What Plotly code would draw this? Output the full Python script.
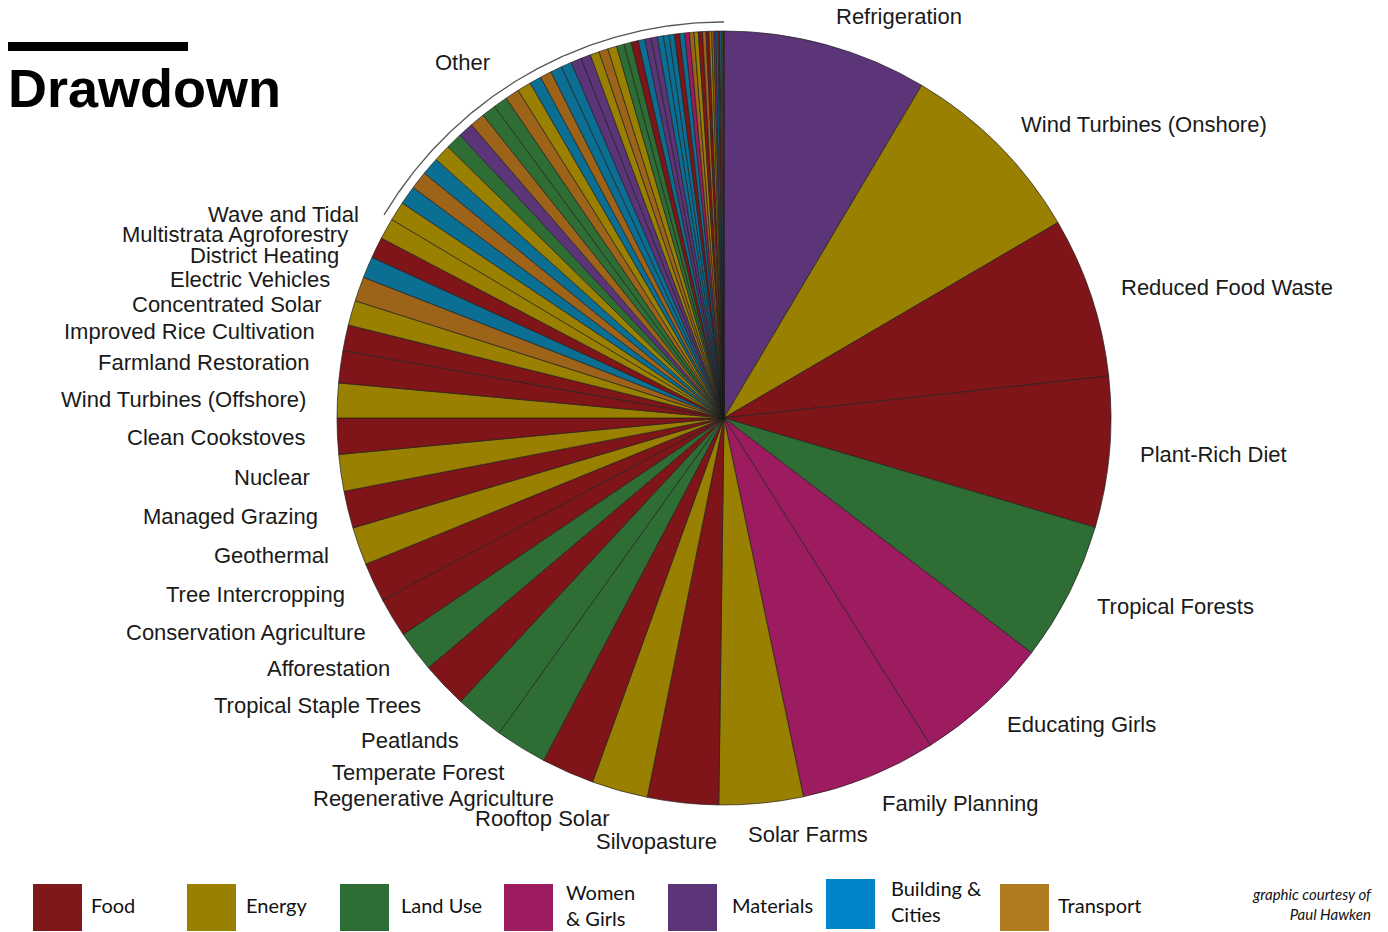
import math
import plotly.graph_objects as go

# ---------------- data ----------------
solutions = [
    "Refrigeration", "Wind Turbines (Onshore)", "Reduced Food Waste", "Plant-Rich Diet",
    "Tropical Forests", "Educating Girls", "Family Planning", "Solar Farms", "Silvopasture",
    "Rooftop Solar", "Regenerative Agriculture", "Temperate Forest", "Peatlands",
    "Tropical Staple Trees", "Afforestation", "Conservation Agriculture", "Tree Intercropping",
    "Geothermal", "Managed Grazing", "Nuclear", "Clean Cookstoves", "Wind Turbines (Offshore)",
    "Farmland Restoration", "Improved Rice Cultivation", "Concentrated Solar", "Electric Vehicles",
    "District Heating", "Multistrata Agroforestry", "Wave and Tidal",
    "Methane Digesters (Large)", "Insulation", "Ships", "LED Lighting (Household)", "Biomass",
    "Bamboo", "Alternative Cement", "Mass Transit", "Forest Protection",
    "Indigenous Peoples' Land Management", "Trucks", "Solar Water", "Heat Pumps", "Airplanes",
    "LED Lighting (Commercial)", "Building Automation", "Water Saving - Home", "Bioplastic",
    "In-Stream Hydro", "Cars", "Cogeneration", "Perennial Biomass", "Coastal Wetlands",
    "System of Rice Intensification", "Walkable Cities", "Household Recycling",
    "Industrial Recycling", "Smart Thermostats", "Landfill Methane", "Bike Infrastructure",
    "Composting", "Smart Glass", "Women Smallholders", "Telepresence",
    "Methane Digesters (Small)", "Nutrient Management", "High-speed Rail", "Farmland Irrigation",
    "Waste-to-Energy", "Electric Bikes", "Recycled Paper", "Water Distribution", "Biochar",
    "Green Roofs", "Trains", "Ridesharing", "Micro Wind",
]
values = [
    89.74, 84.60, 70.53, 66.11, 61.23, 59.60, 59.60, 36.90, 31.19, 24.60, 23.15, 22.61, 21.57,
    20.19, 18.06, 17.35, 17.20, 16.60, 16.34, 16.09, 15.81, 15.20, 14.08, 11.34, 10.90, 10.80,
    9.38, 9.28, 9.20,
    8.40, 8.27, 7.87, 7.81, 7.50, 7.22, 6.69, 6.57, 6.20, 6.19, 6.18, 6.08, 5.20, 5.05, 5.04,
    4.62, 4.61, 4.30, 4.00, 4.00, 3.97, 3.33, 3.19, 3.13, 2.92, 2.77, 2.77, 2.62, 2.50, 2.31,
    2.28, 2.19, 2.06, 1.99, 1.90, 1.81, 1.52, 1.33, 1.10, 0.96, 0.90, 0.87, 0.81, 0.77, 0.52,
    0.32, 0.20,
]
sectors = [
    "Materials", "Energy", "Food", "Food", "Land Use", "Women & Girls", "Women & Girls", "Energy",
    "Food", "Energy", "Food", "Land Use", "Land Use", "Food", "Land Use", "Food", "Food",
    "Energy", "Food", "Energy", "Food", "Energy", "Food", "Food", "Energy", "Transport",
    "Building & Cities", "Food", "Energy",
    "Energy", "Building & Cities", "Transport", "Building & Cities", "Energy", "Land Use",
    "Materials", "Transport", "Land Use", "Land Use", "Transport", "Energy", "Building & Cities",
    "Transport", "Building & Cities", "Building & Cities", "Materials", "Materials", "Energy",
    "Transport", "Energy", "Land Use", "Land Use", "Food", "Building & Cities", "Materials",
    "Materials", "Building & Cities", "Building & Cities", "Building & Cities", "Food",
    "Building & Cities", "Women & Girls", "Transport", "Energy", "Food", "Transport", "Food",
    "Energy", "Transport", "Materials", "Building & Cities", "Food", "Building & Cities",
    "Transport", "Transport", "Energy",
]
n_named = 29                      # slices that carry their own label
other_label = "Other"
legend_labels = ["Food", "Energy", "Land Use", "Women<br>& Girls", "Materials",
                 "Building &<br>Cities", "Transport"]
legend_sectors = ["Food", "Energy", "Land Use", "Women & Girls", "Materials",
                  "Building & Cities", "Transport"]

# ---------------- styles ----------------
W, H = 1388, 932
CX, CY, R = 724, 418, 387          # pie centre / radius in px
LABEL_R = 416
ARC_R = 396
slice_colors = {
    "Food": "#7f1519", "Energy": "#9a8000", "Land Use": "#2e6e35",
    "Women & Girls": "#9c1c5f", "Materials": "#5b3577",
    "Building & Cities": "#0b6f94", "Transport": "#9d6318",
}
legend_colors = {
    "Food": "#801719", "Energy": "#9b8000", "Land Use": "#2e6e35",
    "Women & Girls": "#9c1c5f", "Materials": "#5b3577",
    "Building & Cities": "#0085cc", "Transport": "#b07a1e",
}
label_nudge = {"Solar Farms": (-18, 2), "Silvopasture": (39, 10), "Other": (-27, 6)}
LABEL_FONT = dict(family="Liberation Sans, Arial, Helvetica, sans-serif", size=22, color="#1a1a1a")
LEG_FONT = dict(family="Lato, Open Sans, sans-serif", size=20, color="#111")

fig = go.Figure()

fig.add_trace(go.Pie(
    labels=solutions, values=values, sort=False, direction="clockwise", rotation=0,
    marker=dict(colors=[slice_colors[s] for s in sectors],
                line=dict(color="rgba(30,30,30,0.85)", width=0.8)),
    textinfo="none", hoverinfo="label+value", showlegend=False,
    domain=dict(x=[(CX - R) / W, (CX + R) / W], y=[(H - CY - R) / H, (H - CY + R) / H]),
))

total = sum(values)
cum = 0.0
annotations = []


def place(text, theta, r=LABEL_R):
    x = CX + r * math.sin(math.radians(theta))
    y = CY - r * math.cos(math.radians(theta))
    dx, dy = label_nudge.get(text, (0, 0))
    annotations.append(dict(
        x=x + dx, y=y + dy, xref="x", yref="y", text=text, showarrow=False,
        xanchor="left" if theta < 180 else "right", yanchor="middle", font=LABEL_FONT))


for i in range(n_named):
    mid = (cum + values[i] / 2) / total * 360
    place(solutions[i], mid)
    cum += values[i]

# arc spanning the remaining "Other" slices
start = cum / total * 360
steps = 120
arc_x, arc_y = [], []
for k in range(steps + 1):
    t = math.radians(start + (360 - start) * k / steps)
    arc_x.append(CX + ARC_R * math.sin(t))
    arc_y.append(CY - ARC_R * math.cos(t))
fig.add_trace(go.Scatter(x=arc_x, y=arc_y, mode="lines", line=dict(color="#555", width=1.3),
                         hoverinfo="skip", showlegend=False))
place(other_label, (start + 360) / 2)

# title
annotations.append(dict(x=6, y=88, xref="x", yref="y", text="<b>Drawdown</b>", showarrow=False,
                        xanchor="left", yanchor="middle",
                        font=dict(family="Liberation Sans, Arial, Helvetica, sans-serif",
                                  size=54, color="#000")))
shapes = [dict(type="rect", xref="x", yref="y", x0=8, x1=188, y0=42, y1=51,
               fillcolor="#000", line=dict(width=0))]

# custom legend
leg_box_x = [33, 187, 340, 504, 668, 826, 1000]
leg_box_y = [(884, 931)] * 5 + [(879, 929), (884, 931)]
leg_text_x = [89, 244, 399, 564, 730, 889, 1056]
for j, sec in enumerate(legend_sectors):
    y0, y1 = leg_box_y[j]
    shapes.append(dict(type="rect", xref="x", yref="y", x0=leg_box_x[j], x1=leg_box_x[j] + 49,
                       y0=y0, y1=y1, fillcolor=legend_colors[sec], line=dict(width=0)))
    annotations.append(dict(x=leg_text_x[j], y=(y0 + y1) / 2 - 3, xref="x", yref="y",
                            text=legend_labels[j], showarrow=False, xanchor="left",
                            yanchor="middle", align="left", font=LEG_FONT))

annotations.append(dict(x=1374, y=904, xref="x", yref="y",
                        text="<i>graphic courtesy of<br>Paul Hawken</i>", showarrow=False,
                        xanchor="right", yanchor="middle", align="right",
                        font=dict(family="Lato, Open Sans, sans-serif", size=15, color="#111")))

fig.update_layout(
    width=W, height=H, margin=dict(l=0, r=0, t=0, b=0), autosize=False,
    paper_bgcolor="white", plot_bgcolor="rgba(0,0,0,0)",
    xaxis=dict(range=[0, W], visible=False, fixedrange=True, domain=[0, 1]),
    yaxis=dict(range=[H, 0], visible=False, fixedrange=True, domain=[0, 1]),
    annotations=annotations, shapes=shapes,
)

fig.write_html("out.html")
